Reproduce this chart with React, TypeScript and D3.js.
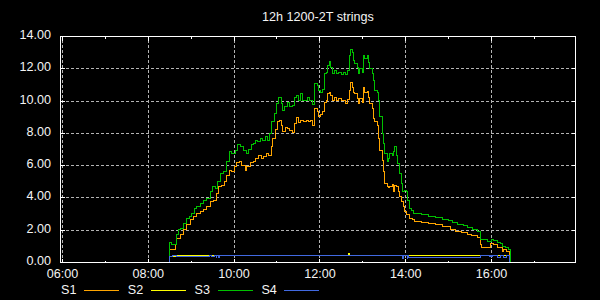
import React from "react";
import * as d3 from "d3";

const TITLE = "12h 1200-2T strings";
const X_TICKS = ["06:00", "08:00", "10:00", "12:00", "14:00", "16:00"];
const X_MINOR = ["07:00", "09:00", "11:00", "13:00", "15:00", "17:00"];
const Y_TICKS = [0, 2, 4, 6, 8, 10, 12, 14];
const SERIES_NAMES = ["S1", "S2", "S3", "S4"];

type Pt = [string, number];

const S1: Pt[] = [
  ["08:30", 0], ["08:30", 0.78], ["08:38", 1.09], ["08:40", 1.51], ["08:45", 1.71], ["08:49", 2.02],
  ["08:54", 2.33], ["08:59", 2.64], ["09:03", 2.84], ["09:08", 3.01], ["09:13", 3.15], ["09:17", 3.3],
  ["09:22", 3.46], ["09:27", 3.77], ["09:31", 3.87], ["09:35", 4.29], ["09:38", 4.69], ["09:43", 4.8],
  ["09:47", 5.0], ["09:50", 5.42], ["09:53", 5.73], ["09:57", 5.62], ["10:01", 5.93], ["10:04", 6.18],
  ["10:07", 6.24], ["10:11", 6.03], ["10:16", 5.73], ["10:18", 5.93], ["10:23", 6.18], ["10:27", 6.24],
  ["10:30", 6.45], ["10:34", 6.65], ["10:38", 6.45], ["10:41", 6.55], ["10:45", 6.76], ["10:48", 6.65],
  ["10:52", 7.17], ["10:54", 7.68], ["10:58", 8.24], ["11:01", 8.71], ["11:04", 8.81], ["11:06", 8.5],
  ["11:08", 8.09], ["11:12", 8.36], ["11:15", 8.3], ["11:18", 8.2], ["11:21", 8.03], ["11:24", 8.61],
  ["11:27", 8.98], ["11:30", 8.65], ["11:33", 8.81], ["11:37", 8.75], ["11:41", 8.77], ["11:44", 8.71],
  ["11:47", 8.81], ["11:50", 8.5], ["11:53", 9.54], ["11:56", 9.33], ["11:58", 9.02], ["12:01", 9.18],
  ["12:04", 9.33], ["12:06", 9.94], ["12:09", 10.05], ["12:11", 10.46], ["12:13", 10.56], ["12:15", 10.36],
  ["12:18", 10.05], ["12:20", 10.22], ["12:23", 10.01], ["12:26", 10.15], ["12:30", 10.01], ["12:33", 10.05],
  ["12:36", 9.88], ["12:39", 10.09], ["12:41", 10.67], ["12:43", 11.18], ["12:46", 10.87], ["12:47", 10.56],
  ["12:49", 10.46], ["12:52", 10.15], ["12:54", 9.85], ["12:56", 10.15], ["12:59", 9.94], ["13:01", 10.87],
  ["13:03", 10.56], ["13:06", 10.62], ["13:08", 10.25], ["13:10", 9.85], ["13:13", 9.54], ["13:15", 8.92],
  ["13:17", 8.71], ["13:20", 8.5], ["13:22", 7.68], ["13:24", 6.96], ["13:27", 6.34], ["13:29", 5.62],
  ["13:31", 4.9], ["13:34", 4.69], ["13:36", 4.63], ["13:38", 4.69], ["13:41", 4.86], ["13:43", 4.39],
  ["13:45", 4.8], ["13:47", 4.69], ["13:50", 4.39], ["13:52", 4.08], ["13:54", 3.77], ["13:57", 3.46],
  ["13:59", 3.15], ["14:01", 2.95], ["14:05", 2.74], ["14:09", 2.64], ["14:13", 2.56], ["14:22", 2.49],
  ["14:32", 2.41], ["14:42", 2.33], ["14:51", 2.2], ["15:03", 2.06], ["15:10", 1.94], ["15:18", 1.83],
  ["15:26", 1.73], ["15:32", 1.65], ["15:40", 1.54], ["15:44", 1.13], ["15:46", 0.95], ["15:59", 1.2],
  ["16:03", 1.09], ["16:08", 0.95], ["16:15", 0.68], ["16:17", 0.83], ["16:21", 0.68], ["16:25", 0.68],
  ["16:25", 0],
];

const S2: Pt[] = [
  ["08:30", 0], ["08:30", 0.35], ["08:38", 0.41], ["09:33", 0.45], ["12:40", 0.54], ["12:41", 0.45],
  ["16:25", 0.45], ["16:25", 0],
];

const S3: Pt[] = [
  ["08:30", 0], ["08:30", 1.24], ["08:33", 1.09], ["08:39", 1.71], ["08:42", 2.02], ["08:45", 2.12],
  ["08:49", 2.43], ["08:54", 2.74], ["08:57", 2.84], ["09:01", 3.05], ["09:05", 3.36], ["09:08", 3.5],
  ["09:13", 3.67], ["09:17", 3.87], ["09:22", 3.98], ["09:27", 4.39], ["09:30", 4.69], ["09:34", 4.59],
  ["09:37", 5.0], ["09:41", 5.52], ["09:45", 5.62], ["09:50", 6.24], ["09:53", 6.86], ["09:57", 6.76],
  ["10:02", 6.96], ["10:05", 7.33], ["10:09", 7.17], ["10:13", 6.96], ["10:17", 6.76], ["10:20", 7.0],
  ["10:24", 7.33], ["10:27", 7.37], ["10:30", 7.58], ["10:33", 7.47], ["10:37", 7.68], ["10:40", 7.58],
  ["10:44", 7.78], ["10:47", 7.58], ["10:50", 7.99], ["10:53", 8.71], ["10:56", 9.23], ["10:59", 9.85],
  ["11:02", 10.25], ["11:06", 9.85], ["11:08", 9.39], ["11:11", 9.64], ["11:14", 9.94], ["11:17", 9.68],
  ["11:21", 9.74], ["11:24", 10.25], ["11:27", 10.36], ["11:30", 10.05], ["11:33", 10.46], ["11:36", 10.05],
  ["11:39", 10.01], ["11:43", 10.22], ["11:46", 10.05], ["11:50", 9.8], ["11:53", 11.08], ["11:56", 10.98],
  ["11:58", 10.67], ["12:01", 10.56], ["12:04", 10.71], ["12:06", 11.7], ["12:09", 11.8], ["12:11", 12.21],
  ["12:13", 12.48], ["12:15", 12.11], ["12:18", 11.7], ["12:20", 11.9], ["12:23", 11.7], ["12:26", 11.76],
  ["12:30", 11.66], ["12:33", 11.74], ["12:36", 11.64], ["12:39", 11.9], ["12:41", 12.83], ["12:43", 13.18],
  ["12:46", 13.03], ["12:47", 12.52], ["12:49", 12.32], ["12:52", 12.11], ["12:54", 11.7], ["12:56", 12.01],
  ["12:59", 11.8], ["13:01", 12.83], ["13:03", 12.62], ["13:06", 12.83], ["13:08", 12.42], ["13:10", 12.01],
  ["13:13", 11.7], ["13:15", 11.29], ["13:17", 10.67], ["13:20", 10.56], ["13:22", 10.05], ["13:24", 9.02],
  ["13:27", 7.99], ["13:29", 7.37], ["13:31", 6.76], ["13:34", 6.24], ["13:36", 6.45], ["13:38", 6.76],
  ["13:41", 6.65], ["13:43", 6.86], ["13:45", 7.17], ["13:47", 6.65], ["13:49", 6.14], ["13:51", 5.52],
  ["13:54", 4.9], ["13:56", 4.39], ["13:58", 4.45], ["14:01", 4.39], ["14:03", 3.87], ["14:05", 3.36],
  ["14:08", 3.21], ["14:11", 3.05], ["14:22", 2.99], ["14:32", 2.88], ["14:42", 2.76], ["14:51", 2.68],
  ["15:00", 2.58], ["15:06", 2.47], ["15:13", 2.35], ["15:21", 2.27], ["15:27", 2.16], ["15:33", 2.06],
  ["15:40", 1.92], ["15:45", 1.4], ["15:55", 1.3], ["16:00", 1.45], ["16:03", 1.35], ["16:08", 1.23],
  ["16:12", 1.15], ["16:15", 1.02], ["16:19", 0.95], ["16:24", 0.83], ["16:26", 0.83], ["16:26", 0],
];

const S4: Pt[] = [
  ["08:30", 0], ["08:30", 0.35], ["08:34", 0.43], ["08:39", 0.35], ["09:26", 0.45], ["09:28", 0.35],
  ["09:33", 0.45], ["09:35", 0.33], ["09:36", 0.45], ["09:38", 0.33], ["09:39", 0.45], ["13:56", 0.27],
  ["13:57", 0.45], ["14:02", 0.27], ["14:03", 0.45], ["14:04", 0.33], ["15:45", 0.45], ["15:57", 0.35],
  ["15:58", 0.45], ["16:00", 0.35], ["16:01", 0.45], ["16:08", 0.33], ["16:12", 0.45], ["16:17", 0.33],
  ["16:21", 0.45], ["16:25", 0.45], ["16:25", 0],
];

const SERIES = [S1, S2, S3, S4];
const COLORS = ["#ffa500", "#ffff00", "#00c000", "#4169e1"];

const toMin = (s: string) => {
  const [h, m] = s.split(":").map(Number);
  return h * 60 + m;
};

const FONT = "'Liberation Sans', Arial, sans-serif";

export default function App() {
  const x = d3.scaleLinear().domain([357.2, 1077.5]).range([60.5, 575.5]);
  const y = d3.scaleLinear().domain([0, 14]).range([262.5, 36.5]);
  const [x0, x1] = x.range();
  const [yb, yt] = y.range();
  const line = d3
    .line<Pt>()
    .x((d) => x(toMin(d[0])))
    .y((d) => y(d[1]))
    .curve(d3.curveStepAfter);

  return (
    <svg
      width={600}
      height={300}
      style={{ position: "absolute", left: 0, top: 0, display: "block", background: "#000" }}
    >
      <rect x={0} y={0} width={600} height={300} fill="#000" />
      <text x={(x0 + x1) / 2} y={21} fill="#f4f4f4" fontSize={12.6} fontFamily={FONT} textAnchor="middle">
        {TITLE}
      </text>
      {/* grid */}
      <g stroke="#b4b4b4" strokeWidth={1} strokeDasharray="3,2" fill="none" shapeRendering="crispEdges">
        {Y_TICKS.filter((v) => v > 0 && v < 14).map((v) => (
          <line key={"gy" + v} x1={x0} x2={x1} y1={y(v)} y2={y(v)} />
        ))}
        {X_TICKS.map((t) => (
          <line key={"gx" + t} x1={x(toMin(t))} x2={x(toMin(t))} y1={yb} y2={yt} />
        ))}
      </g>
      {/* series */}
      {SERIES.map((s, i) => (
        <path
          key={SERIES_NAMES[i]}
          d={line(s) || ""}
          fill="none"
          stroke={COLORS[i]}
          strokeWidth={1}
          shapeRendering="crispEdges"
        />
      ))}
      {/* frame */}
      <rect
        x={x0}
        y={yt}
        width={x1 - x0}
        height={yb - yt}
        fill="none"
        stroke="#fff"
        strokeWidth={1}
        shapeRendering="crispEdges"
      />
      {/* ticks */}
      <g stroke="#fff" strokeWidth={1} shapeRendering="crispEdges">
        {X_TICKS.map((t) => (
          <g key={"tx" + t}>
            <line x1={x(toMin(t))} x2={x(toMin(t))} y1={yb} y2={yb - 4} />
            <line x1={x(toMin(t))} x2={x(toMin(t))} y1={yt} y2={yt + 4} />
          </g>
        ))}
        {X_MINOR.map((t) => (
          <g key={"mx" + t}>
            <line x1={x(toMin(t))} x2={x(toMin(t))} y1={yb} y2={yb - 2} />
            <line x1={x(toMin(t))} x2={x(toMin(t))} y1={yt} y2={yt + 2} />
          </g>
        ))}
        {Y_TICKS.map((v) => (
          <g key={"ty" + v}>
            <line x1={x0} x2={x0 + 4} y1={y(v)} y2={y(v)} />
            <line x1={x1} x2={x1 - 4} y1={y(v)} y2={y(v)} />
          </g>
        ))}
      </g>
      {/* labels */}
      <g fill="#f4f4f4" fontSize={12.6} fontFamily={FONT}>
        {Y_TICKS.map((v) => (
          <text key={"ly" + v} x={51} y={y(v) + 2.5} textAnchor="end">
            {v.toFixed(2)}
          </text>
        ))}
        {X_TICKS.map((t) => (
          <text key={"lx" + t} x={x(toMin(t))} y={277.7} textAnchor="middle">
            {t}
          </text>
        ))}
      </g>
      {/* legend */}
      <g fontSize={12.6} fontFamily={FONT}>
        {SERIES_NAMES.map((n, i) => {
          const lx = 61 + i * 66.8;
          return (
            <g key={"lg" + n}>
              <text x={lx} y={293.5} fill="#f4f4f4">
                {n}
              </text>
              <line
                x1={lx + 23}
                x2={lx + 58}
                y1={290}
                y2={290}
                stroke={COLORS[i]}
                strokeWidth={1}
                shapeRendering="crispEdges"
              />
            </g>
          );
        })}
      </g>
    </svg>
  );
}
